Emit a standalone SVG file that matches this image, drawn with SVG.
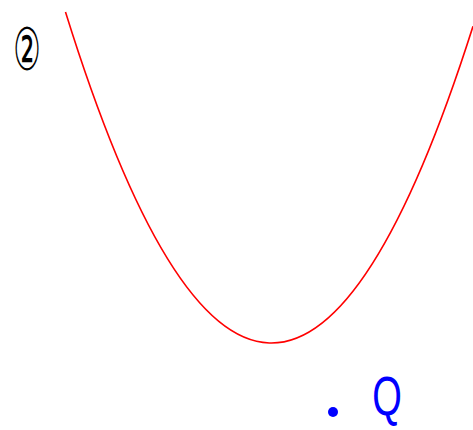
<svg xmlns="http://www.w3.org/2000/svg" width="473" height="430" viewBox="0 0 473 430">
<style>
.curve{fill:none;stroke:#ff0000;stroke-width:1.6}
.lbl{font-family:"DejaVu Sans",sans-serif;fill:#000}
.q{font-family:"Liberation Sans",Arial,sans-serif;fill:#0000ff}
</style>
<rect width="473" height="430" fill="#fff"/>
<g id="curve"><path class="curve" d="M65.5,12 Q269.25,666.8 473,26.3"/></g>
<g id="label-2"><text class="lbl" transform="translate(27,69.5) scale(0.52,1)" font-size="59" text-anchor="middle">②</text></g>
<g id="point-Q">
<circle cx="333" cy="412" r="5" fill="#0000ff"/>
<text class="q" transform="translate(387,415) scale(0.68,1)" font-size="56" text-anchor="middle">Q</text>
</g>
</svg>
